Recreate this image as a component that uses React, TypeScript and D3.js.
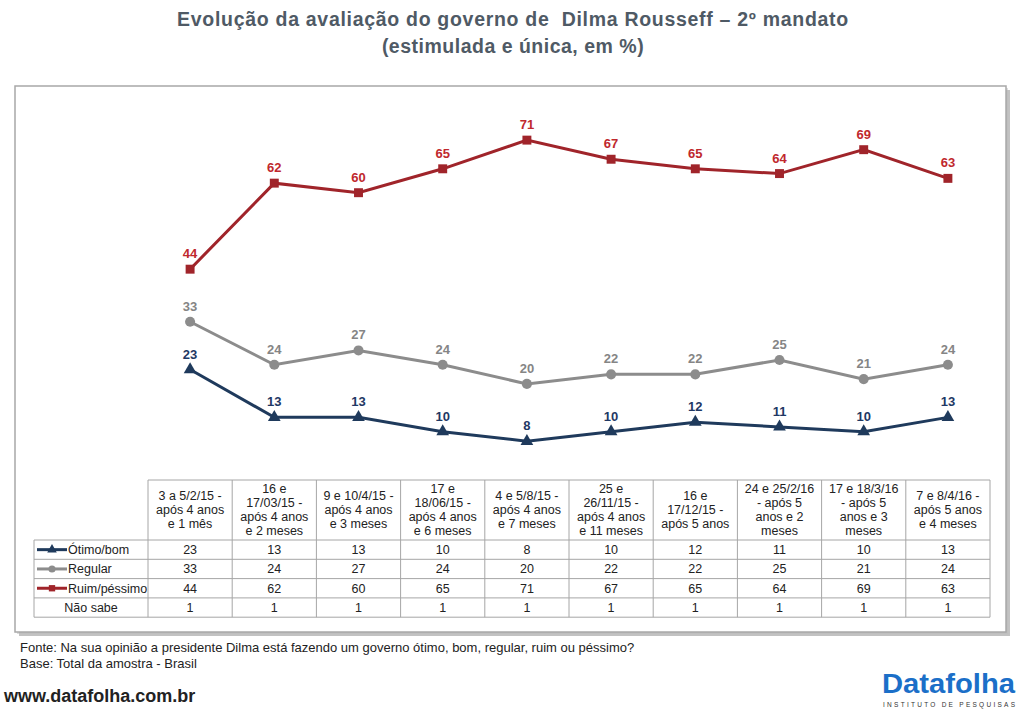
import React from "react";
import * as d3 from "d3";

const dates: string[][] = [
  ["3 a 5/2/15 -", "após 4 anos", "e 1 mês"],
  ["16 e", "17/03/15 -", "após 4 anos", "e 2 meses"],
  ["9 e 10/4/15 -", "após 4 anos", "e 3 meses"],
  ["17 e", "18/06/15 -", "após 4 anos", "e 6 meses"],
  ["4 e 5/8/15 -", "após 4 anos", "e 7 meses"],
  ["25 e", "26/11/15 -", "após 4 anos", "e 11 meses"],
  ["16 e", "17/12/15 -", "após 5 anos"],
  ["24 e 25/2/16", "- após 5", "anos e 2", "meses"],
  ["17 e 18/3/16", "- após 5", "anos e 3", "meses"],
  ["7 e 8/4/16 -", "após 5 anos", "e 4 meses"],
];

const otimo = [23, 13, 13, 10, 8, 10, 12, 11, 10, 13];
const regular = [33, 24, 27, 24, 20, 22, 22, 25, 21, 24];
const ruim = [44, 62, 60, 65, 71, 67, 65, 64, 69, 63];
const naoSabe = [1, 1, 1, 1, 1, 1, 1, 1, 1, 1];

const seriesNames = ["Ótimo/bom", "Regular", "Ruim/péssimo", "Não sabe"];

const FONT = "'Liberation Sans', Arial, Helvetica, sans-serif";

export default function App() {
  const idx = dates.map((_, i) => String(i));
  const x = d3.scaleBand<string>().domain(idx).range([148, 990]).padding(0);
  const cx = (i: number) => (x(String(i)) as number) + x.bandwidth() / 2;
  const y = d3.scaleLinear().domain([0, 80]).range([479.5, 97.1]);

  const series = [
    { name: seriesNames[0], values: otimo, line: "#1f3a5c", label: "#1f3864", symbol: d3.symbolTriangle, size: 70 },
    { name: seriesNames[1], values: regular, line: "#8c8c8c", label: "#858585", symbol: d3.symbolCircle, size: 80 },
    { name: seriesNames[2], values: ruim, line: "#a0242a", label: "#c0282d", symbol: d3.symbolSquare, size: 80 },
  ];

  const lineGen = d3
    .line<number>()
    .x((_, i) => cx(i))
    .y((d) => y(d));

  const tableLeft = 34;
  const tableRight = 990;
  const headerTop = 480;
  const headerBottom = 540;
  const rowH = 19.3;
  const rows = [otimo, regular, ruim, naoSabe];
  const gridColor = "#a6a6a6";

  return (
    <svg
      width={1024}
      height={716}
      style={{ position: "absolute", left: 0, top: 0, background: "#fff" }}
      fontFamily={FONT}
    >
      <rect x={0} y={0} width={1024} height={716} fill="#fff" />
      {/* title */}
      <text
        x={513}
        y={26}
        textAnchor="middle"
        fontSize={19.5}
        fontWeight="bold"
        fill="#4f5a65"
        letterSpacing={0.7}
        style={{ whiteSpace: "pre" }}
      >
        {"Evolução da avaliação do governo de  Dilma Rousseff – 2º mandato"}
      </text>
      <text x={513} y={53} textAnchor="middle" fontSize={19.5} fontWeight="bold" fill="#4f5a65" letterSpacing={0.5}>
        (estimulada e única, em %)
      </text>

      {/* frame with shadow */}
      <rect x={19} y={90} width={991} height={546} fill="#9a9a9a" opacity={0.6} />
      <rect x={17} y={88} width={991} height={546} fill="#bbb" opacity={0.5} />
      <rect x={15} y={86} width={991} height={546} fill="#fff" stroke="#a8a8a8" strokeWidth={1.5} />

      {/* lines */}
      {series.map((s) => (
        <g key={s.name}>
          <path d={lineGen(s.values) || ""} fill="none" stroke={s.line} strokeWidth={3} />
          {s.values.map((v, i) => (
            <path
              key={i}
              d={d3.symbol().type(s.symbol).size(s.size)() || ""}
              transform={`translate(${cx(i)},${y(v)})`}
              fill={s.line}
            />
          ))}
          {s.values.map((v, i) => (
            <text
              key={"l" + i}
              x={cx(i)}
              y={y(v) - 11}
              textAnchor="middle"
              fontSize={13}
              fontWeight="bold"
              fill={s.label}
            >
              {v}
            </text>
          ))}
        </g>
      ))}

      {/* table */}
      <g>
        <line x1={148} x2={tableRight} y1={headerTop} y2={headerTop} stroke={gridColor} />
        {idx.map((d, i) => (
          <line
            key={"v" + i}
            x1={x(d) as number}
            x2={x(d) as number}
            y1={headerTop}
            y2={headerBottom + rowH * 4}
            stroke={gridColor}
          />
        ))}
        <line x1={tableRight} x2={tableRight} y1={headerTop} y2={headerBottom + rowH * 4} stroke={gridColor} />
        <line x1={tableLeft} x2={tableLeft} y1={headerBottom} y2={headerBottom + rowH * 4} stroke={gridColor} />
        {[0, 1, 2, 3, 4].map((r) => (
          <line
            key={"h" + r}
            x1={tableLeft}
            x2={tableRight}
            y1={headerBottom + rowH * r}
            y2={headerBottom + rowH * r}
            stroke={gridColor}
          />
        ))}
        {dates.map((lines, i) => {
          const mid = (headerTop + headerBottom) / 2;
          const start = mid - ((lines.length - 1) * 14) / 2;
          return (
            <text key={"hd" + i} textAnchor="middle" fontSize={12.5} fill="#222">
              {lines.map((ln, j) => (
                <tspan key={j} x={cx(i)} y={start + j * 14 + 4.4}>
                  {ln}
                </tspan>
              ))}
            </text>
          );
        })}
        {rows.map((vals, r) => {
          const cy = headerBottom + rowH * r + rowH / 2;
          return (
            <g key={"r" + r}>
              {vals.map((v, i) => (
                <text key={i} x={cx(i)} y={cy + 4.4} textAnchor="middle" fontSize={12.5} fill="#222">
                  {v}
                </text>
              ))}
              {r < 3 ? (
                <g>
                  <line x1={37} x2={67} y1={cy} y2={cy} stroke={series[r].line} strokeWidth={3} />
                  <path
                    d={d3.symbol().type(series[r].symbol).size(40)() || ""}
                    transform={`translate(52,${cy})`}
                    fill={series[r].line}
                  />
                  <text x={68} y={cy + 4.4} fontSize={12.5} fill="#222">
                    {seriesNames[r]}
                  </text>
                </g>
              ) : (
                <text x={(tableLeft + 148) / 2} y={cy + 4.4} textAnchor="middle" fontSize={12.5} fill="#222">
                  {seriesNames[r]}
                </text>
              )}
            </g>
          );
        })}
      </g>

      {/* footer */}
      <text x={20} y={652} fontSize={13} fill="#222">
        Fonte: Na sua opinião a presidente Dilma está fazendo um governo ótimo, bom, regular, ruim ou péssimo?
      </text>
      <text x={20} y={668} fontSize={13} fill="#222">
        Base: Total da amostra - Brasil
      </text>
      <text x={4} y={702} fontSize={18} fill="#222" fontWeight="bold">
        www.datafolha.com.br
      </text>

      {/* logo */}
      <text
        x={882}
        y={693}
        fontSize={28}
        fontWeight="bold"
        fill="#1b6fc8"
        fontFamily="'Liberation Sans Narrow', 'Arial Narrow', sans-serif"
        textLength={133}
        lengthAdjust="spacingAndGlyphs"
      >
        Datafolha
      </text>
      <text x={883} y={707} fontSize={6.5} fill="#333" textLength={132} lengthAdjust="spacing">
        INSTITUTO DE PESQUISAS
      </text>
    </svg>
  );
}
